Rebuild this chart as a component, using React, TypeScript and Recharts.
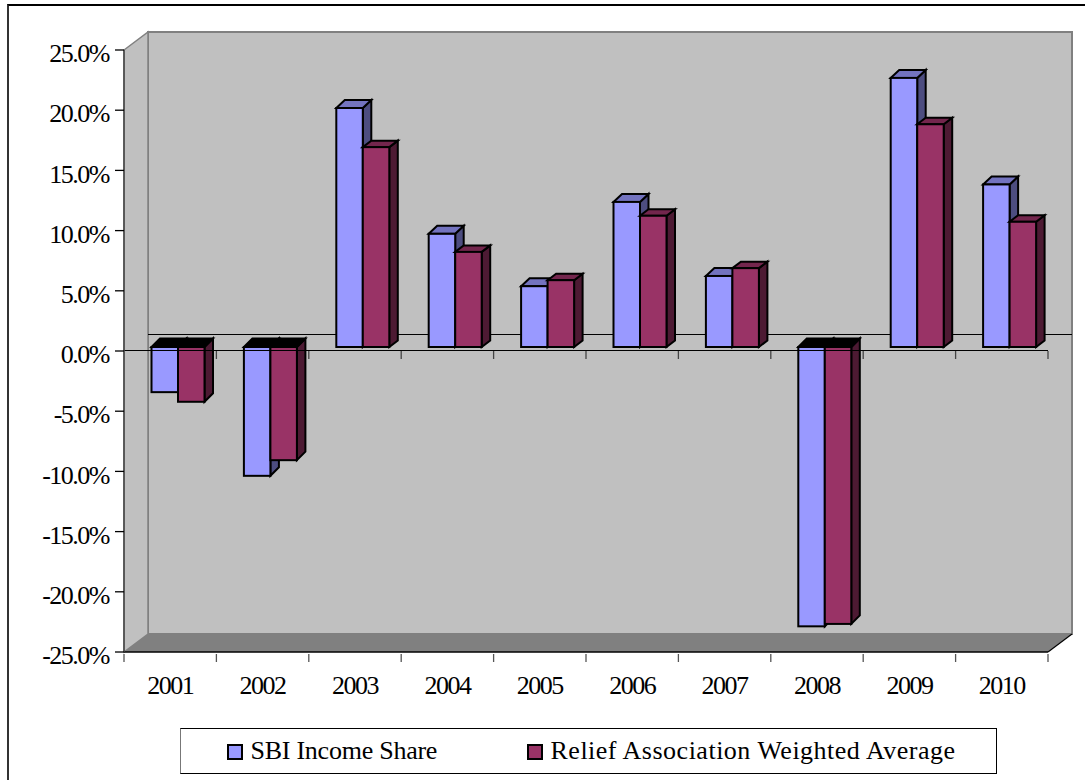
import React from "react";
import {
  BarChart,
  Bar,
  XAxis,
  YAxis,
  ReferenceLine,
  usePlotArea,
} from "recharts";

const years = ["2001", "2002", "2003", "2004", "2005", "2006", "2007", "2008", "2009", "2010"];
const sbiIncomeShare = [-3.75, -10.7, 19.85, 9.4, 5.05, 12.05, 5.9, -23.2, 22.35, 13.5];
const reliefAverage = [-4.55, -9.4, 16.6, 7.9, 5.55, 10.9, 6.55, -23.0, 18.5, 10.4];
const yTicks = [25, 20, 15, 10, 5, 0, -5, -10, -15, -20, -25];

const chartData = years.map((year, i) => ({
  year,
  sbi: sbiIncomeShare[i],
  relief: reliefAverage[i],
}));

const SERIF = "'Liberation Serif', serif";
const FONT_SIZE = 26;
const AXIS_SPACING = -1.5;

// plot box of the front plane
const PLOT_LEFT = 124;
const PLOT_TOP = 50;
const PLOT_RIGHT = 1048;
const PLOT_BOTTOM = 652;
const BAND = (PLOT_RIGHT - PLOT_LEFT) / years.length;

// how far the back wall sits behind the front plane
const WALL_DX = 24;
const WALL_DY = -18;

// bars stand in the middle of the floor, with this much depth
const BAR_SHIFT_X = 7.5;
const BAR_SHIFT_Y = -4;
const BAR_DX = 8.5;

const pts = (list: number[][]) => list.map((p) => p.join(",")).join(" ");

// back wall, left wall and floor, drawn under the bars
const Walls = () => {
  const plot = usePlotArea();
  if (!plot) return null;
  const left = plot.x;
  const top = plot.y;
  const right = plot.x + plot.width;
  const bottom = plot.y + plot.height;
  const zero = top + plot.height / 2;
  return (
    <g>
      <rect
        x={left + WALL_DX}
        y={top + WALL_DY}
        width={plot.width}
        height={plot.height}
        fill="#c0c0c0"
        stroke="#808080"
        strokeWidth={2}
      />
      <polygon
        points={pts([
          [left, top],
          [left + WALL_DX, top + WALL_DY],
          [left + WALL_DX, bottom + WALL_DY],
          [left, bottom],
        ])}
        fill="#c0c0c0"
        stroke="#808080"
        strokeWidth={1.5}
      />
      <polygon
        points={pts([
          [left, bottom],
          [left + WALL_DX, bottom + WALL_DY],
          [right + WALL_DX, bottom + WALL_DY],
          [right, bottom],
        ])}
        fill="#808080"
      />
      <line
        x1={right}
        y1={bottom}
        x2={right + WALL_DX}
        y2={bottom + WALL_DY}
        stroke="#000"
        strokeWidth={1.2}
      />
      <line
        x1={left + WALL_DX}
        y1={zero - 16.5}
        x2={right + WALL_DX}
        y2={zero - 16.5}
        stroke="#000"
        strokeWidth={1}
      />
    </g>
  );
};

// box-shaped bar: front, top and side faces
const makeBox = (front: string, topFace: string, side: string, depth: number) => (props: any) => {
  const { x, y, width, height, value } = props;
  const val = Array.isArray(value) ? value[1] : value;
  const x0 = x + BAR_SHIFT_X;
  const x1 = x0 + width;
  const y0 = Math.min(y, y + height) + BAR_SHIFT_Y;
  const y1 = Math.max(y, y + height) + BAR_SHIFT_Y;
  const negative = val < 0;
  const dy = negative ? -8.5 : -depth;
  return (
    <g stroke="#000" strokeWidth={2} strokeLinejoin="miter">
      <polygon
        points={pts([
          [x1, y0],
          [x1 + BAR_DX, y0 + dy],
          [x1 + BAR_DX, y1 + dy],
          [x1, y1],
        ])}
        fill={side}
      />
      <polygon
        points={pts([
          [x0, y0],
          [x0 + BAR_DX, y0 + dy],
          [x1 + BAR_DX, y0 + dy],
          [x1, y0],
        ])}
        fill={negative ? "#000" : topFace}
      />
      <rect x={x0} y={y0} width={width} height={y1 - y0} fill={front} />
    </g>
  );
};

const SbiBox = makeBox("#9999ff", "#7373bf", "#4d4d80", 8);
const ReliefBox = makeBox("#993366", "#73264d", "#4d1a33", 6.5);

// zero line with its own category tick marks
const ZeroLine = (props: any) => {
  const { x1, x2, y1 } = props;
  return (
    <g stroke="#000">
      <line x1={x1} y1={y1 - 0.5} x2={x2} y2={y1 - 0.5} strokeWidth={1.2} />
      {years.map((year, i) => (
        <line
          key={year}
          x1={x1 + BAND * (i + 1)}
          y1={y1}
          x2={x1 + BAND * (i + 1)}
          y2={y1 + 8}
          stroke="#444"
          strokeWidth={1.3}
        />
      ))}
    </g>
  );
};

// year label centred in its band, tick marks on the band edges
const YearTick = (props: any) => {
  const { x, y, payload, index } = props;
  const edge = x + BAND / 2;
  return (
    <g>
      {index === 0 && (
        <line x1={x - BAND / 2} y1={y} x2={x - BAND / 2} y2={y + 8} stroke="#555" strokeWidth={1.3} />
      )}
      <line x1={edge} y1={y} x2={edge} y2={y + 8} stroke="#555" strokeWidth={1.3} />
      <text
        x={x}
        y={y + 40}
        textAnchor="middle"
        fontFamily={SERIF}
        fontSize={FONT_SIZE}
        letterSpacing={AXIS_SPACING}
        fill="#000"
      >
        {payload.value}
      </text>
    </g>
  );
};

const legendItems = [
  { label: "SBI Income Share", fill: "#9999ff", swatch: 45.5, text: 69.5, spacing: -0.25 },
  { label: "Relief Association Weighted Average", fill: "#993366", swatch: 345.5, text: 369.5, spacing: 0.5 },
];

const App = () => (
  <div style={{ position: "absolute", left: 0, top: 0, width: 1085, height: 780, background: "#fff", overflow: "hidden" }}>
    <div
      style={{
        position: "absolute",
        left: 7,
        top: 4,
        right: 0,
        bottom: 0,
        borderLeft: "2px solid #333",
        borderTop: "2px solid #000",
      }}
    />
    <div style={{ position: "absolute", left: 0, top: 0 }}>
      <BarChart
        width={1085}
        height={780}
        data={chartData}
        margin={{ top: PLOT_TOP, right: 1085 - PLOT_RIGHT, left: 0, bottom: 0 }}
        barSize={26.5}
        barGap={0}
      >
        <Walls />
        <XAxis
          dataKey="year"
          height={780 - PLOT_BOTTOM}
          axisLine={{ stroke: "#000", strokeWidth: 1.4 }}
          tickLine={false}
          tickSize={0}
          tick={<YearTick />}
          interval={0}
        />
        <YAxis
          width={PLOT_LEFT}
          domain={[-25, 25]}
          ticks={yTicks}
          interval={0}
          tickFormatter={(v: number) => `${v.toFixed(1)}%`}
          axisLine={{ stroke: "#444", strokeWidth: 1.5 }}
          tickLine={{ stroke: "#000", strokeWidth: 1.3 }}
          tickSize={9}
          tickMargin={6}
          tick={{ fontFamily: SERIF, fontSize: FONT_SIZE, letterSpacing: AXIS_SPACING, fill: "#000", dy: 3 }}
        />
        <Bar dataKey="sbi" name="SBI Income Share" shape={SbiBox} isAnimationActive={false} />
        <Bar dataKey="relief" name="Relief Association Weighted Average" shape={ReliefBox} isAnimationActive={false} />
        <ReferenceLine y={0} shape={ZeroLine} />
      </BarChart>
    </div>
    <div
      style={{
        position: "absolute",
        left: 180,
        top: 728,
        width: 815,
        height: 44,
        border: "1.5px solid #000",
        borderLeftColor: "#777",
        background: "#fff",
        fontFamily: SERIF,
        fontSize: FONT_SIZE,
        color: "#000",
      }}
    >
      {legendItems.map((item) => (
        <React.Fragment key={item.label}>
          <span
            style={{
              position: "absolute",
              left: item.swatch,
              top: 14.5,
              width: 12,
              height: 12,
              background: item.fill,
              border: "2px solid #000",
            }}
          />
          <span
            style={{
              position: "absolute",
              left: item.text,
              top: 7,
              whiteSpace: "nowrap",
              letterSpacing: item.spacing,
            }}
          >
            {item.label}
          </span>
        </React.Fragment>
      ))}
    </div>
  </div>
);

export default App;
